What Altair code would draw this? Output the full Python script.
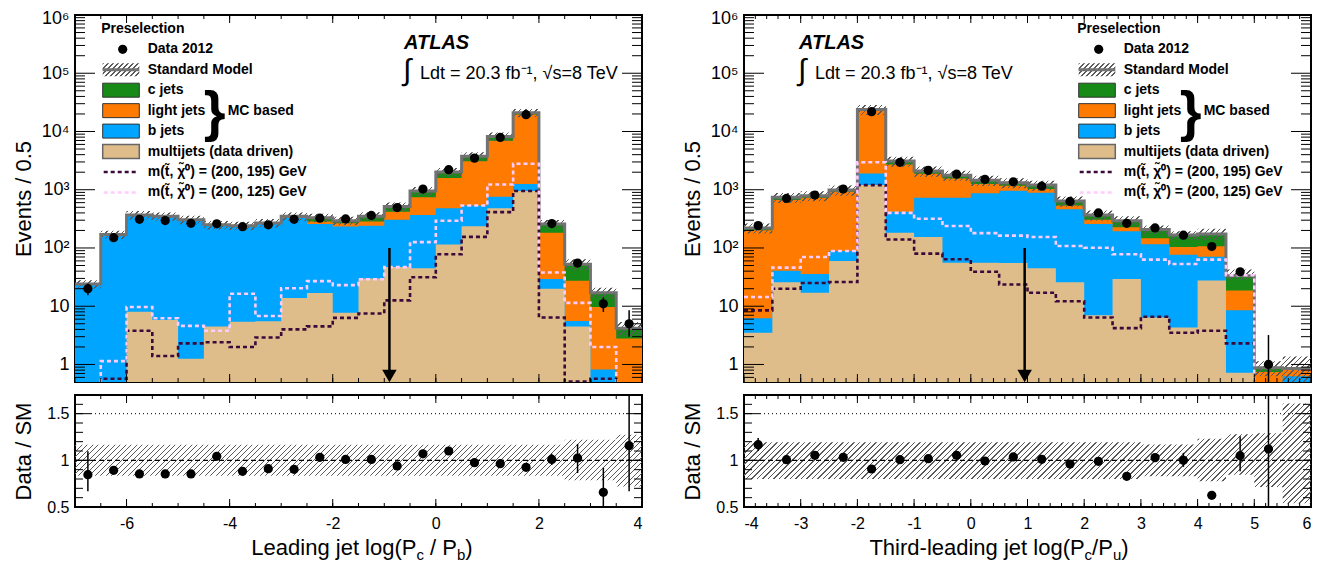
import altair as alt
import numpy as np
import pandas as pd

FONT = "Liberation Sans"
GREEN = "#178a17"
ORANGE = "#ff7a00"
BLUE = "#00a5ff"
TAN = "#dfbd8b"
SMGRAY = "#727272"
DARK = "#3a0a3a"
PINK = "#ffccff"
HATCH = "#5a5a5a"

W, H1, H2 = 567, 367, 112
YMIN, YMAX = 0.5, 1e6
RMIN, RMAX = 0.5, 1.7
FLOOR = 1e-3
TOPSHIFT = -5  # inner texts measured from a frame top 5px higher

# ---------------- left panel : Leading jet log(Pc/Pb) ----------------
L_lo = [-7.0, -6.5, -6.0, -5.5, -5.0, -4.5, -4.0, -3.5, -3.0, -2.5, -2.0,
        -1.5, -1.0, -0.5, 0.0, 0.5, 1.0, 1.5, 2.0, 2.5, 3.0, 3.5]
L_multijet = [0, 0, 8.0, 5.8, 1.25, 4.5, 5.4, 5.5, 13.8, 16.8, 7.7, 30, 47, 45, 115, 236, 480, 950, 20, 4.5, 0, 0]
L_bjets = [24, 170, 362, 344, 304, 245, 235, 264, 316, 241, 227, 210, 258, 325, 365, 300, 280, 300, 9.4, 1.1, 0.82, 0]
L_light = [0, 0, 0, 0, 0, 0, 0, 0, 10, 27, 30, 45, 115, 375, 1110, 2560, 6180, 18350, 153, 21.9, 8.9, 2.8]
L_cjets = [0, 0, 0, 0, 0, 0, 0, 0, 10, 45, 30, 65, 95, 210, 430, 670, 1280, 1300, 76, 25.2, 7.3, 1.4]
L_data = [20, 150, 310, 295, 265, 260, 232, 250, 310, 325, 315, 362, 495, 1025, 2210, 3490, 7900, 19400, 262, 55, 11, 5]
L_data_lo = [15.5, None, None, None, None, None, None, None, None, None, None,
             None, None, None, None, None, None, None, None, None, 8.0, 3.0]
L_data_hi = [24.5, None, None, None, None, None, None, None, None, None, None,
             None, None, None, None, None, None, None, None, None, 14.2, 8.5]
L_sig195 = [None, 0.57, 3.8, 1.4, 2.3, 2.4, 2.0, 2.9, 4.0, 4.5, 6.3, 7.5, 12.6, 31.5, 78, 155, 413, 950, 6.4, 0.51, 0.57, None]
L_sig125 = [None, 1.14, 9.7, 6.2, 4.6, 3.8, 16.4, 6.8, 20.4, 27, 23, 29, 47, 126, 294, 536, 1230, 2790, 38, 11.4, 2.0, None]
L_ratio = [0.846, 0.893, 0.854, 0.854, 0.854, 1.043, 0.882, 0.910, 0.904, 1.032, 1.010,
           1.010, 0.940, 1.070, 1.100, 0.975, 0.964, 0.925, 1.010, 1.025, 0.657, 1.157]
L_ratio_lo = [0.668, None, None, None, None, None, None, None, None, None, None,
              None, None, None, None, None, None, None, 0.95, 0.864, 0.40, 0.668]
L_ratio_hi = [1.096, None, None, None, None, None, None, None, None, None, None,
              None, None, None, None, None, None, None, 1.07, 1.175, 0.92, 1.80]
L_band_hi = [1.168, 1.168, 1.168, 1.168, 1.168, 1.168, 1.168, 1.168, 1.168, 1.168, 1.168,
             1.168, 1.168, 1.168, 1.168, 1.168, 1.168, 1.168, 1.168, 1.221, 1.221, 1.275]
L_band_lo = [0.836, 0.836, 0.836, 0.836, 0.836, 0.836, 0.836, 0.836, 0.836, 0.836, 0.836,
             0.836, 0.836, 0.836, 0.836, 0.836, 0.836, 0.836, 0.836, 0.786, 0.786, 0.720]
L_xlabels = [-6, -4, -2, 0, 2, 4]

# ---------------- right panel : Third-leading jet log(Pc/Pu) ----------------
R_lo = [-4.0, -3.5, -3.0, -2.5, -2.0, -1.5, -1.0, -0.5, 0.0, 0.5,
        1.0, 1.5, 2.0, 2.5, 3.0, 3.5, 4.0, 4.5, 5.0, 5.5]
R_multijet = [3.5, 25.8, 17, 60, 1200, 182, 154, 56, 56, 55, 45, 25.8, 7.0, 29.4, 6.4, 4.3, 27.6, 0.72, 0, 0]
R_bjets = [2.7, 14.9, 18.7, 29, 700, 238, 577, 675, 810, 905, 845, 438, 251, 165, 109, 72, 43, 7.8, 0, 0.63]
R_light = [196, 629, 695, 836, 20500, 2300, 1159, 829, 394, 210, 140, 71, 48, 33, 31, 28, 37, 10.1, 0.74, 0.17]
R_cjets = [19, 70, 59, 65, 1500, 380, 200, 220, 190, 150, 170, 105, 64, 66, 61, 62, 67, 14.9, 0.14, 0.05]
R_data = [242, 710, 810, 1030, 21900, 2960, 2150, 1850, 1500, 1365, 1150, 630, 400, 265, 221, 166, 106, 39, 1, None]
R_data_lo = [None, None, None, None, None, None, None, None, None, None,
             None, None, None, None, None, None, None, None, 0.3, None]
R_data_hi = [None, None, None, None, None, None, None, None, None, None,
             None, None, None, None, None, None, None, None, 3.2, None]
R_sig195 = [8.5, 20, 25, 26, 1200, 140, 80, 64, 39, 23.6, 17, 12.2, 6.4, 4.2, 6.6, 3.5, 3.8, 2.3, None, None]
R_sig125 = [14.4, 46, 70, 89, 2960, 400, 317, 239, 180, 163, 154, 108, 101, 78, 63, 53, 63, 34, None, None]
R_ratio = [1.168, 1.007, 1.054, 1.032, 0.907, 1.007, 1.018, 1.054, 0.993, 1.036,
           1.011, 0.960, 0.989, 0.829, 1.029, 1.000, 0.625, 1.050, 1.121, None]
R_ratio_lo = [1.10, None, None, None, None, None, None, None, None, None,
              None, None, None, None, None, 0.93, None, 0.882, 0.40, None]
R_ratio_hi = [1.24, None, None, None, None, None, None, None, None, None,
              None, None, None, None, None, 1.08, None, 1.257, 1.80, None]
R_band_hi = [1.193, 1.193, 1.193, 1.193, 1.193, 1.193, 1.193, 1.193, 1.193, 1.193,
             1.193, 1.193, 1.193, 1.193, 1.17, 1.17, 1.23, 1.28, 1.29, 1.61]
R_band_lo = [0.80, 0.80, 0.80, 0.80, 0.80, 0.80, 0.80, 0.80, 0.80, 0.80,
             0.80, 0.80, 0.80, 0.80, 0.83, 0.83, 0.775, 0.846, 0.714, 0.54]
R_xlabels = [-4, -3, -2, -1, 0, 1, 2, 3, 4, 5, 6]

Y_MAJOR = [1, 10, 100, 1000, 10000, 100000, 1000000]
Y_MAJOR_LABELS = ["1", "10", "10²", "10³", "10⁴", "10⁵", "10⁶"]
R_MAJOR = [0.5, 1.0, 1.5]

LEG_LABELS = ["Data 2012", "Standard Model", "c jets", "light jets", "b jets",
              "multijets (data driven)", "m(t̃, χ̃⁰) = (200, 195) GeV", "m(t̃, χ̃⁰) = (200, 125) GeV"]

# ---------------- helpers ----------------
HELV = {' ': 278, '(': 333, ')': 333, '/': 278, '-': 333, '.': 278, ',': 278, '=': 584,
        'L': 556, 'P': 667, 'T': 611, 'a': 556, 'b': 556, 'c': 500, 'd': 556, 'e': 556,
        'g': 556, 'h': 556, 'i': 222, 'j': 222, 'l': 222, 'n': 556, 'o': 556, 'r': 333,
        't': 278, 'u': 556}


def tw(s, size):
    return sum(HELV.get(ch, 556) for ch in s) * size / 1000.0


def hatch(bw, bh, period=5.5, lw=1.3, color=HATCH):
    S = bw + bh
    r = bh / bw
    k = S / (bw * (1 + r * r))
    clear = "rgba(255,255,255,0)"
    stops = []
    i = 0
    while True:
        a = i * period / S
        if a >= 1:
            break
        b = min((i * period + lw) / S, 1.0)
        a, b = round(a, 6), round(b, 6)
        stops += [{"offset": a, "color": clear}, {"offset": a, "color": color},
                  {"offset": b, "color": color}, {"offset": b, "color": clear}]
        i += 1
    return {"gradient": "linear", "x1": 0, "y1": 0, "x2": round(k, 6), "y2": round(k * r, 6),
            "stops": stops}


def ypx(v):
    return H1 * (np.log10(YMAX) - np.log10(v)) / (np.log10(YMAX) - np.log10(YMIN))


def step_frame(lo, width, cols):
    d = {"x": list(lo) + [lo[-1] + width]}
    for k, v in cols.items():
        v = list(v)
        d[k] = v + [v[-1]]
    return pd.DataFrame(d)


def pos(a):
    return [float(v) if (v is not None and v > 0) else FLOOR for v in a]


DUMMY = pd.DataFrame({"a": [0]})


def text(txt, x, y, size, weight="normal", style="normal", align="left", baseline="middle", color="black"):
    return alt.Chart(DUMMY).mark_text(text=txt, font=FONT, fontSize=size, fontWeight=weight,
                                      fontStyle=style, align=align, baseline=baseline,
                                      color=color).encode(x=alt.value(x), y=alt.value(y))


def make_panel(P):
    lo, bw = P["lo"], 0.5
    xs = alt.Scale(domain=P["xdom"], nice=False, zero=False)
    ys = alt.Scale(type="log", domain=[YMIN, YMAX], nice=False)
    rs = alt.Scale(domain=[RMIN, RMAX], nice=False, zero=False)
    centers = [v + bw / 2 for v in lo]

    ylabexpr = "".join(f"datum.value == {v} ? '{l}' : " for v, l in zip(Y_MAJOR, Y_MAJOR_LABELS)) + "''"
    yaxis = alt.Axis(values=Y_MAJOR, labelExpr=ylabexpr, title="Events / 0.5", labelFontSize=18,
                     titleFontSize=22, labelPadding=6, minExtent=38, maxExtent=38, titlePadding=2,
                     labelOffset={"condition": {"test": "datum.value == 1000000", "value": 3}, "value": 0})
    xlabexpr = "datum.value < 0 ? '-' + format(-datum.value, 'd') : format(datum.value, 'd')"
    xaxis = alt.Axis(values=P["x_labels"], labelExpr=xlabexpr, labelFontSize=16, labelPadding=8, title=None)
    raxis = alt.Axis(values=R_MAJOR, labelExpr="datum.value == 1 ? '1' : format(datum.value, '.1f')",
                     labelFontSize=16, labelPadding=6, title="Data / SM", titleFontSize=22,
                     minExtent=38, maxExtent=38, titlePadding=2)

    def X(f):
        return alt.X(f, scale=xs, axis=None)

    def Y(f):
        return alt.Y(f, scale=ys, axis=yaxis)

    def RX(f):
        return alt.X(f, scale=xs, axis=xaxis)

    def RY(f):
        return alt.Y(f, scale=rs, axis=raxis)

    def tick_rules(vals, xf, yf, chan, side, length, h):
        df = pd.DataFrame({"v": vals})
        base = alt.Chart(df).mark_rule(color="black", strokeWidth=1)
        if chan == "y":
            enc = dict(y=yf("v:Q"))
            if side == "left":
                enc.update(x=alt.value(0), x2=alt.value(length))
            else:
                enc.update(x=alt.value(W), x2=alt.value(W - length))
        else:
            enc = dict(x=xf("v:Q"))
            if side == "bottom":
                enc.update(y=alt.value(h), y2=alt.value(h - length))
            else:
                enc.update(y=alt.value(0), y2=alt.value(length))
        return base.encode(**enc)

    M = np.array(P["multijet"], float)
    btop = M + np.array(P["bjets"], float)
    ltop = btop + np.array(P["light"], float)
    ctop = ltop + np.array(P["cjets"], float)
    bhi = ctop * np.array(P["band_hi"])
    blo = ctop * np.array(P["band_lo"])
    st = step_frame(lo, bw, {"ctop": pos(ctop), "ltop": pos(ltop), "btop": pos(btop),
                             "mtop": pos(M), "bhi": pos(bhi), "blo": pos(blo),
                             "s195": pos(P["s195"]), "s125": pos(P["s125"])})

    layers = []
    for col, colr in [("ctop", GREEN), ("ltop", ORANGE), ("btop", BLUE), ("mtop", TAN)]:
        layers.append(alt.Chart(st).mark_area(interpolate="step-after", color=colr, opacity=1, clip=True).encode(
            x=X("x:Q"), y=Y(f"{col}:Q"), y2=alt.datum(YMIN)))

    bh_main = ypx(min(blo)) - ypx(max(bhi))
    layers.append(alt.Chart(st).mark_area(interpolate="step-after", fill=hatch(W, bh_main), clip=True).encode(
        x=X("x:Q"), y=Y("bhi:Q"), y2="blo:Q"))
    layers.append(alt.Chart(st).mark_line(interpolate="step-after", color=SMGRAY, strokeWidth=3, clip=True).encode(
        x=X("x:Q"), y=Y("ctop:Q")))
    for col, colr in [("s195", DARK), ("s125", PINK)]:
        layers.append(alt.Chart(st).mark_line(interpolate="step-after", color=colr, strokeWidth=2.6,
                                              strokeDash=[4, 3], clip=True).encode(
            x=X("x:Q"), y=Y(f"{col}:Q")))

    pts = pd.DataFrame({"c": centers, "d": [np.nan if v is None else v for v in P["data"]],
                        "lo": [np.nan if v is None else v for v in P["data_lo"]],
                        "hi": [np.nan if v is None else v for v in P["data_hi"]]})
    errs = pts.dropna(subset=["lo", "hi"])
    layers.append(alt.Chart(errs).mark_rule(color="black", strokeWidth=1.5, clip=True).encode(
        x=X("c:Q"), y=Y("lo:Q"), y2="hi:Q"))
    layers.append(alt.Chart(pts.dropna(subset=["d"])).mark_circle(size=85, color="black", opacity=1).encode(
        x=X("c:Q"), y=Y("d:Q")))

    # cut arrow
    arr = pd.DataFrame({"x": [P["arrow_x"]], "top": [100.0]})
    layers.append(alt.Chart(arr).mark_rule(color="black", strokeWidth=2.5).encode(
        x=X("x:Q"), y=Y("top:Q"), y2=alt.value(H1 - 10)))
    layers.append(alt.Chart(arr).mark_point(shape="triangle-down", filled=True, size=210, color="black",
                                            opacity=1).encode(x=X("x:Q"), y=alt.value(H1 - 6)))

    # inner ticks
    yminor = [0.6, 0.7, 0.8, 0.9] + [k * 10 ** e for e in range(0, 6) for k in range(2, 10)]
    for side in ("left", "right"):
        layers.append(tick_rules(Y_MAJOR, X, Y, "y", side, 20, H1))
        layers.append(tick_rules(yminor, X, Y, "y", side, 10, H1))
    for side in ("bottom", "top"):
        layers.append(tick_rules(P["x_major"], X, Y, "x", side, 8, H1))
        layers.append(tick_rules(P["x_minor"], X, Y, "x", side, 4, H1))

    # ATLAS label
    ax = P["atlas_x"]
    layers.append(text("ATLAS", ax, 39 + TOPSHIFT, 20, weight="bold", style="italic", baseline="alphabetic"))
    layers.append(text("∫", ax - 1, 61 + TOPSHIFT, 30, baseline="middle"))
    layers.append(text("Ldt = 20.3 fb⁻¹, √s=8 TeV", ax + 16, 69 + TOPSHIFT, 18, baseline="alphabetic"))

    # legend
    ox = P["leg_x"]
    rows = [39.3 + TOPSHIFT + 20.45 * k for k in range(8)]
    layers.append(text("Preselection", ox - 1.5, 19 + TOPSHIFT, 14, weight="bold"))
    for k, lab in enumerate(LEG_LABELS):
        layers.append(text(lab, ox + 45, rows[k], 14, weight="bold"))
    layers.append(alt.Chart(DUMMY).mark_circle(size=85, color="black", opacity=1).encode(
        x=alt.value(ox + 20), y=alt.value(rows[0])))
    layers.append(alt.Chart(DUMMY).mark_rect(fill=hatch(36.6, 13, period=5.0, lw=1.3)).encode(
        x=alt.value(ox), x2=alt.value(ox + 36.6), y=alt.value(rows[1] - 6.5), y2=alt.value(rows[1] + 6.5)))
    layers.append(alt.Chart(DUMMY).mark_rule(color=SMGRAY, strokeWidth=3).encode(
        x=alt.value(ox), x2=alt.value(ox + 36.6), y=alt.value(rows[1])))
    for k, colr in [(2, GREEN), (3, ORANGE), (4, BLUE), (5, TAN)]:
        layers.append(alt.Chart(DUMMY).mark_rect(fill=colr, stroke="#333333" if k < 5 else "#666666",
                                                 strokeWidth=1 if k < 5 else 1.5).encode(
            x=alt.value(ox), x2=alt.value(ox + 36.6), y=alt.value(rows[k] - 7), y2=alt.value(rows[k] + 7)))
    for k, colr in [(6, DARK), (7, PINK)]:
        layers.append(alt.Chart(DUMMY).mark_rule(color=colr, strokeWidth=2.6, strokeDash=[4, 3]).encode(
            x=alt.value(ox + 1), x2=alt.value(ox + 36), y=alt.value(rows[k])))
    mid = (rows[2] + rows[4]) / 2
    layers.append(text("}", ox + 112, mid + 2, 56, weight="bold", align="center"))
    layers.append(text("MC based", ox + 125, mid, 14, weight="bold"))

    main = alt.layer(*layers).properties(width=W, height=H1)

    # ---------------- ratio panel ----------------
    rb = step_frame(lo, bw, {"hi": P["band_hi"], "lo": P["band_lo"]})
    bh_r = (max(P["band_hi"]) - min(P["band_lo"])) / (RMAX - RMIN) * H2
    rl = []
    rl.append(alt.Chart(rb).mark_area(interpolate="step-after", fill=hatch(W, bh_r), clip=True).encode(
        x=RX("x:Q"), y=RY("hi:Q"), y2="lo:Q"))
    refs = pd.DataFrame({"one": [1.0], "onefive": [1.5]})
    rl.append(alt.Chart(refs).mark_rule(color="black", strokeWidth=1.2, strokeDash=[5, 3]).encode(
        y=RY("one:Q"), x=alt.value(0), x2=alt.value(W)))
    rl.append(alt.Chart(refs).mark_rule(color="black", strokeWidth=1, strokeDash=[1, 3]).encode(
        y=RY("onefive:Q"), x=alt.value(16), x2=alt.value(W - 16)))
    rp = pd.DataFrame({"c": centers, "r": [np.nan if v is None else v for v in P["ratio"]],
                       "lo": [np.nan if v is None else v for v in P["ratio_lo"]],
                       "hi": [np.nan if v is None else v for v in P["ratio_hi"]]})
    rl.append(alt.Chart(rp.dropna(subset=["lo", "hi"])).mark_rule(color="black", strokeWidth=1.5, clip=True).encode(
        x=RX("c:Q"), y=RY("lo:Q"), y2="hi:Q"))
    rl.append(alt.Chart(rp.dropna(subset=["r"])).mark_circle(size=85, color="black", opacity=1).encode(
        x=RX("c:Q"), y=RY("r:Q")))
    rminor = [round(0.5 + 0.1 * k, 2) for k in range(13)]
    for side in ("left", "right"):
        rl.append(tick_rules(R_MAJOR, RX, RY, "y", side, 16, H2))
        rl.append(tick_rules(rminor, RX, RY, "y", side, 8, H2))
    for side in ("bottom", "top"):
        rl.append(tick_rules(P["x_major"], RX, RY, "x", side, 8, H2))
        rl.append(tick_rules(P["x_minor"], RX, RY, "x", side, 4, H2))

    # x title with subscripts
    pieces = P["xtitle"]
    total = sum(tw(s, 15 if sub else 22) for s, sub in pieces)
    x0 = P["xtitle_c"] - total / 2
    for s, sub in pieces:
        size = 15 if sub else 22
        lead = len(s) - len(s.lstrip(" "))
        rl.append(text(s.strip(" "), x0 + tw(" " * lead, size), 160 + (5 if sub else 0), size,
                       baseline="alphabetic"))
        x0 += tw(s, size)

    ratio = alt.layer(*rl).properties(width=W, height=H2)
    return alt.vconcat(main, ratio, spacing=9)


left = make_panel(dict(
    lo=L_lo, xdom=[-7, 4], multijet=L_multijet, bjets=L_bjets, light=L_light, cjets=L_cjets,
    data=L_data, data_lo=L_data_lo, data_hi=L_data_hi, s195=L_sig195, s125=L_sig125,
    ratio=L_ratio, ratio_lo=L_ratio_lo, ratio_hi=L_ratio_hi, band_hi=L_band_hi, band_lo=L_band_lo,
    x_labels=L_xlabels, x_major=[-6, -4, -2, 0, 2, 4],
    x_minor=[round(-7 + 0.5 * k, 2) for k in range(23)],
    arrow_x=-0.9, atlas_x=329, leg_x=27.7, xtitle_c=287,
    xtitle=[("Leading jet log(P", False), ("c", True), (" / P", False), ("b", True), (")", False)]))

right = make_panel(dict(
    lo=R_lo, xdom=[-4, 6], multijet=R_multijet, bjets=R_bjets, light=R_light, cjets=R_cjets,
    data=R_data, data_lo=R_data_lo, data_hi=R_data_hi, s195=R_sig195, s125=R_sig125,
    ratio=R_ratio, ratio_lo=R_ratio_lo, ratio_hi=R_ratio_hi, band_hi=R_band_hi, band_lo=R_band_lo,
    x_labels=R_xlabels, x_major=R_xlabels,
    x_minor=[round(-4 + 0.2 * k, 2) for k in range(51)],
    arrow_x=0.95, atlas_x=55, leg_x=334.7, xtitle_c=255,
    xtitle=[("Third-leading jet log(P", False), ("c", True), ("/P", False), ("u", True), (")", False)]))

chart = alt.hconcat(left, right, spacing=36).properties(
    padding={"left": 3, "top": 0, "right": 0, "bottom": 0}, background="white"
).configure_view(stroke="black", strokeWidth=2).configure_axis(
    labelFont=FONT, titleFont=FONT, labelColor="black", titleColor="black", grid=False,
    domain=False, ticks=False, tickSize=0, titleFontWeight="normal")

chart.save("out.html", embed_options={"renderer": "svg", "actions": False})
